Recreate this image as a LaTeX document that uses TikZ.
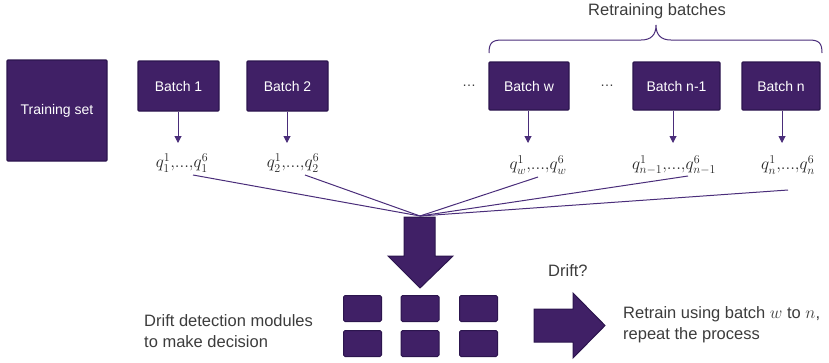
\documentclass[tikz,border=0pt]{standalone}
\usepackage{fontspec}
\setmainfont{Liberation Sans}
\usetikzlibrary{arrows.meta,calc}
\definecolor{pfill}{HTML}{402066}
\definecolor{pborder}{HTML}{2C154E}
\definecolor{pline}{HTML}{4A2D7A}
\definecolor{tgray}{HTML}{3C3C3C}
\tikzset{
  box/.style={draw=pborder, fill=pfill, line width=1.3pt, rounded corners=1pt, text=white,
    inner sep=0pt, font=\fontsize{14}{16}\selectfont},
  cell/.style={draw=pborder, fill=pfill, line width=1pt, rounded corners=1.5pt, minimum width=38pt, minimum height=26pt, inner sep=0pt},
  arr/.style={draw=pline, line width=1pt, -{Triangle[width=7pt,length=7pt]}},
  fan/.style={draw=pline, line width=1pt},
  qlab/.style={font=\fontsize{18.5}{20}\selectfont, inner sep=0pt, text=black!85},
  label/.style={text=tgray, font=\fontsize{16.5}{21}\selectfont, align=left, inner sep=0pt},
  bigarrow/.style={fill=pfill, draw=pborder, line width=1pt, line join=miter},
}
\begin{document}
\begin{tikzpicture}[x=1pt,y=-1pt]
\useasboundingbox (0,0) rectangle (829,362);
% boxes
\node[box, minimum width=100pt, minimum height=101pt] (ts) at (57,110.5) {Training set};
\node[box, minimum width=81pt, minimum height=50pt] (b1) at (178.5,86) {Batch 1};
\node[box, minimum width=81pt, minimum height=50pt] (b2) at (287.5,86) {Batch 2};
\node[box, minimum width=80pt, minimum height=48pt] (bw) at (529,86) {Batch w};
\node[box, minimum width=87pt, minimum height=48pt] (bn1) at (676.5,86) {Batch n-1};
\node[box, minimum width=78pt, minimum height=48pt] (bn) at (781,86) {Batch n};
\node[text=tgray, font=\fontsize{14}{16}\selectfont] (d1) at (469,86) {\dots};
\node[text=tgray, font=\fontsize{14}{16}\selectfont] (d2) at (607,86) {\dots};
% q labels
\node[qlab] (q1) at (182,163) {$q_1^1{,}...{,}q_1^6$};
\node[qlab] (q2) at (293,163) {$q_2^1{,}...{,}q_2^6$};
\node[qlab] (qw) at (538,165) {$q_w^1{,}...{,}q_w^6$};
\node[qlab] (qn1) at (674,165) {$q_{n-1}^1{,}...{,}q_{n-1}^6$};
\node[qlab] (qn) at (788,165) {$q_n^1{,}...{,}q_n^6$};
% arrows batch -> q
\coordinate (a1) at (178,143);
\coordinate (a2) at (287,143);
\coordinate (aw) at (528,143);
\coordinate (an1) at (673,143);
\coordinate (an) at (782,143);
\draw[arr] (b1.south -| a1) -- (a1);
\draw[arr] (b2.south -| a2) -- (a2);
\draw[arr] (bw.south -| aw) -- (aw);
\draw[arr] (bn1.south -| an1) -- (an1);
\draw[arr] (bn.south -| an) -- (an);
% fan lines
\coordinate (conv) at (420,216);
\coordinate (l1) at (193,175);
\coordinate (l2) at (305,175);
\coordinate (lw) at (538,177);
\coordinate (ln1) at (688,176);
\coordinate (ln) at (788,190);
\draw[fan] (l1) -- (conv);
\draw[fan] (l2) -- (conv);
\draw[fan] (lw) -- (conv);
\draw[fan] (ln1) -- (conv);
\draw[fan] (ln) -- (conv);
% brace
\draw[pline, line width=1pt] (489,53) .. controls (489,43) and (492,40) .. (502,40) -- (641,40)
  .. controls (651,40) and (656,35) .. (656,25) .. controls (656,35) and (661,40) .. (671,40)
  -- (809,40) .. controls (819,40) and (822,43) .. (822,53);
\node[text=tgray, font=\fontsize{16.5}{20}\selectfont] (rb) at (657,11) {Retraining batches};
% big down arrow
\draw[bigarrow] (404,217) -- (435,217) -- (435,256) -- (453,256) -- (420,288) -- (388,256) -- (404,256) -- cycle;
% grid
\foreach \cx/\c in {362.5/a,420/b,478.5/c}{
  \node[cell] (g1\c) at (\cx,308.5) {};
  \node[cell] (g2\c) at (\cx,343.5) {};
}
\node[label, anchor=west] (dd) at (144,331) {Drift detection modules\\to make decision};
\node[text=tgray, font=\fontsize{16.5}{20}\selectfont, anchor=west, inner sep=0pt] (drift) at (548,271) {Drift?};
% right arrow
\draw[bigarrow] (534,309) -- (573,309) -- (573,293) -- (605,325.5) -- (573,358) -- (573,342) -- (534,342) -- cycle;
\node[label, anchor=west] (rt) at (623,325) {Retrain using batch $w$ to $n$,\\repeat the process};
\end{tikzpicture}
\end{document}
